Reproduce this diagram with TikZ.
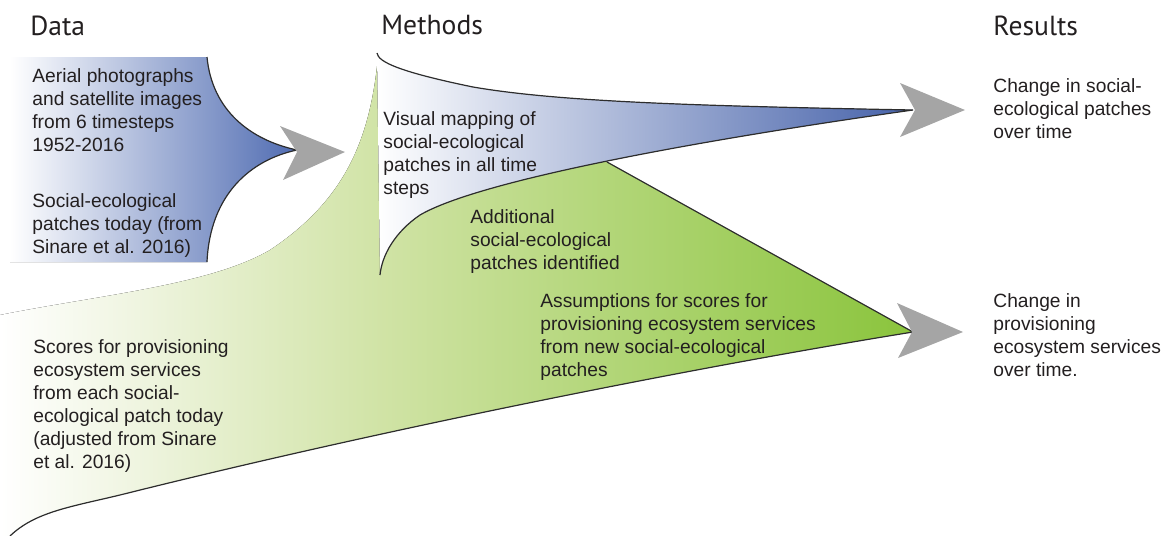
\documentclass[tikz,border=0pt]{standalone}
\usepackage{fontspec}
\setmainfont{Liberation Sans}
\newfontfamily\headfont{PT Sans}

\definecolor{ink}{RGB}{35,31,32}
\definecolor{edge}{RGB}{45,45,45}
\definecolor{arrowgray}{RGB}{165,165,165}
\definecolor{blueDeep}{RGB}{70,98,170}
\definecolor{blueData}{RGB}{80,108,178}
\definecolor{greenDeep}{RGB}{138,196,60}
\definecolor{greenMid}{RGB}{208,227,165}
\definecolor{greenPale}{RGB}{238,244,222}

% white on the left, deepening green towards the tip on the right
\pgfdeclarehorizontalshading{greenfade}{100bp}{%
  color(0bp)=(white); color(25bp)=(white); color(33bp)=(greenPale);
  color(46bp)=(greenMid); color(75bp)=(greenDeep); color(100bp)=(greenDeep)}

% multi-line nodes are placed by the baseline of their last line
\tikzset{
  edgeline/.style={draw=edge, line width=0.6pt},
  headarrow/.style={fill=arrowgray},
  body/.style={anchor=base west, align=left, inner sep=0pt, text=ink,
    font=\fontsize{9.6}{11.5}\selectfont},
  head/.style={anchor=base west, inner sep=0pt, text=ink,
    font=\headfont\fontsize{13.8}{16}\selectfont},
}

\begin{document}
\begin{tikzpicture}[x=0.5pt, y=-0.5pt]
\useasboundingbox (0,0) rectangle (1175,536);

% green band: scores and new patches
\fill[shading=greenfade]
  (10,536) .. controls (35,512) and (70,507) .. (120,495)
  .. controls (380,430) and (690,368) .. (913,332)
  -- (607,162) -- (600,150) -- (390,150) -- (378,57)
  .. controls (370,140) and (345,200) .. (270,250)
  .. controls (210,285) and (100,295) .. (0,315)
  -- (0,536) -- cycle;
\draw[edgeline]
  (10,536) .. controls (35,512) and (70,507) .. (120,495)
  .. controls (380,430) and (690,368) .. (913,332) -- (607,162);

% blue band: visual mapping
\fill[left color=white, right color=blueDeep]
  (377,53) .. controls (378,62) and (400,72) .. (473,87)
  .. controls (560,102) and (700,106) .. (913,110)
  .. controls (700,140) and (480,180) .. (420,215)
  .. controls (395,232) and (382,255) .. (380,275) -- cycle;
\draw[edgeline]
  (377,53) .. controls (378,62) and (400,72) .. (473,87)
  .. controls (560,102) and (700,106) .. (913,110)
  .. controls (700,140) and (480,180) .. (420,215)
  .. controls (395,232) and (382,255) .. (380,275);

% blue data block
\fill[left color=white, right color=blueData]
  (10,57) -- (207,57) .. controls (212,110) and (250,140) .. (297,150)
  .. controls (250,160) and (210,195) .. (207,262) -- (10,262) -- cycle;
\draw[edgeline]
  (207,57) .. controls (212,110) and (250,140) .. (297,150)
  .. controls (250,160) and (210,195) .. (207,262);

% grey arrow heads
\fill[headarrow] (280,126) -- (345,152) -- (283,180) -- (297,152) -- cycle;
\fill[headarrow] (900,83) -- (965,110) -- (900,137) -- (915,110) -- cycle;
\fill[headarrow] (897,303) -- (963,332) -- (898,358) -- (912,332) -- cycle;

% column headings
\node[head] (hData) at (30,35) {Data};
\node[head] (hMethods) at (381,34) {Methods};
\node[head] (hResults) at (993,35) {Results};

% data
\node[body] (dImages) at (32,151) {Aerial photographs\\and satellite images\\from 6 timesteps\\1952-2016};
\node[body] (dPatches) at (32,253) {Social-ecological\\patches today (from\\Sinare et al. 2016)};
\node[body] (dScores) at (33,468) {Scores for provisioning\\ecosystem services\\from each social-\\ecological patch today\\(adjusted from Sinare\\et al. 2016)};

% methods
\node[body] (mMapping) at (383,194) {Visual mapping of\\social-ecological\\patches in all time\\steps};
\node[body] (mAdditional) at (470,269) {Additional\\social-ecological\\patches identified};
\node[body] (mAssume) at (540,376) {Assumptions for scores for\\provisioning ecosystem services\\from new social-ecological\\patches};

% results
\node[body] (rPatches) at (993,138) {Change in social-\\ecological patches\\over time};
\node[body] (rServices) at (993,376) {Change in\\provisioning\\ecosystem services\\over time.};
\end{tikzpicture}
\end{document}
